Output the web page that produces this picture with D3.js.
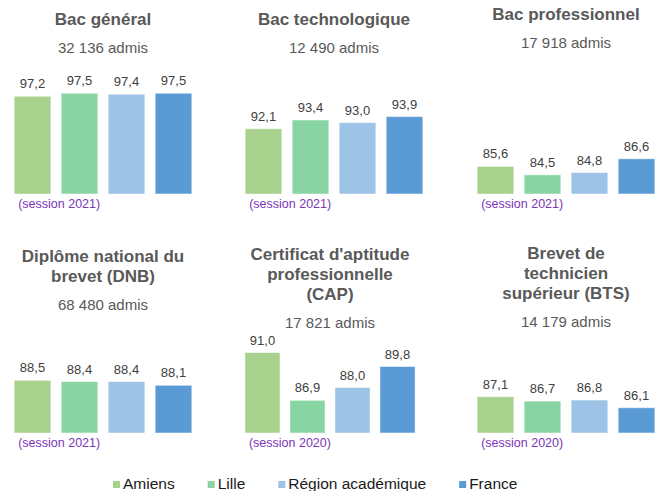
<html>
<head>
    <meta charset="utf-8">
    <script src="https://d3js.org/d3.v7.min.js"></script>
    <style>
        body { margin: 0; background: #fff; }
        text { font-family: "Liberation Sans", Arial, sans-serif; }
    </style>
</head>
<body>
<div id="my_dataviz"></div>
<script>

    // data
    var series = ["Amiens", "Lille", "Région académique", "France"];
    var colors = ["#A9D18E", "#88D4A2", "#9DC3E6", "#5B9BD5"];
    var titles = [
        ["Bac général"],
        ["Bac technologique"],
        ["Bac professionnel"],
        ["Diplôme national du", "brevet (DNB)"],
        ["Certificat d'aptitude", "professionnelle", "(CAP)"],
        ["Brevet de", "technicien", "supérieur (BTS)"]
    ];
    var admis = ["32 136 admis", "12 490 admis", "17 918 admis", "68 480 admis", "17 821 admis", "14 179 admis"];
    var sessions = ["(session 2021)", "(session 2021)", "(session 2021)", "(session 2021)", "(session 2020)", "(session 2020)"];
    var amiens = [97.2, 92.1, 85.6, 88.5, 91.0, 87.1];
    var lille = [97.5, 93.4, 84.5, 88.4, 86.9, 86.7];
    var region = [97.4, 93.0, 84.8, 88.4, 88.0, 86.8];
    var france = [97.5, 93.9, 86.6, 88.1, 89.8, 86.1];
    // each small chart has its own value axis (hidden)
    var yMin = [87.5, 82.4, 82.0, 84.3, 84.1, 83.8];
    var yMax = [100.8, 102.3, 99.5, 94.9, 95.5, 95.9];

    // layout
    var width = 658, height = 491;
    var panelX = [9, 240, 472, 9, 240, 472];
    var panelW = [188, 188, 188, 188, 180, 188];
    var rowTop = [60, 60, 60, 300, 300, 300];
    var rowBottom = [194, 194, 194, 433, 433, 433];
    var titleY = [25, 25, 20, 262, 260, 259];
    var lineH = 20;

    var svg = d3.select("#my_dataviz")
        .append("svg")
        .attr("width", width)
        .attr("height", height);

    var fmt = function (v) { return d3.format(".1f")(v).replace(".", ","); };

    titles.forEach(function (t, i) {
        var g = svg.append("g");
        var vals = [amiens[i], lille[i], region[i], france[i]];

        var x = d3.scaleBand()
            .domain(series)
            .range([panelX[i], panelX[i] + panelW[i]])
            .paddingInner(0.22)
            .paddingOuter(0.11);

        var y = d3.scaleLinear()
            .domain([yMin[i], yMax[i]])
            .range([rowBottom[i], rowTop[i]]);

        var cx = panelX[i] + panelW[i] / 2;

        // title
        g.append("text")
            .attr("text-anchor", "middle")
            .style("font-size", "17px")
            .style("font-weight", "bold")
            .style("fill", "#595959")
            .selectAll("tspan")
            .data(t)
            .enter()
            .append("tspan")
            .attr("x", cx)
            .attr("y", function (d, j) { return titleY[i] + j * lineH; })
            .text(function (d) { return d; });

        // admis count
        g.append("text")
            .attr("x", cx)
            .attr("y", titleY[i] + (t.length - 1) * lineH + 28)
            .attr("text-anchor", "middle")
            .style("font-size", "15px")
            .style("fill", "#595959")
            .text(admis[i]);

        // bars
        g.selectAll("rect")
            .data(vals)
            .enter()
            .append("rect")
            .attr("x", function (d, j) { return x(series[j]); })
            .attr("y", function (d) { return y(d); })
            .attr("width", x.bandwidth())
            .attr("height", function (d) { return y.range()[0] - y(d); })
            .style("fill", function (d, j) { return colors[j]; })
            .style("stroke", "#ffffff")
            .style("stroke-opacity", 0.5)
            .style("stroke-width", 1);

        // value labels
        g.selectAll(".val")
            .data(vals)
            .enter()
            .append("text")
            .attr("class", "val")
            .attr("x", function (d, j) { return x(series[j]) + x.bandwidth() / 2; })
            .attr("y", function (d) { return y(d) - 8; })
            .attr("text-anchor", "middle")
            .style("font-size", "13px")
            .style("fill", "#404040")
            .text(fmt);

        // session note
        g.append("text")
            .attr("x", x(series[0]) + 4)
            .attr("y", rowBottom[i] + 14)
            .style("font-size", "12.5px")
            .style("fill", "#7B35B5")
            .text(sessions[i]);
    });

    // legend
    var lx = 113;
    series.forEach(function (s, j) {
        svg.append("rect")
            .attr("x", lx)
            .attr("y", 481)
            .attr("width", 7)
            .attr("height", 7)
            .style("fill", colors[j]);
        var t = svg.append("text")
            .attr("x", lx + 10)
            .attr("y", 489)
            .style("font-size", "15.5px")
            .style("fill", "#1a1a1a")
            .text(s);
        lx += 10 + t.node().getComputedTextLength() + 33;
    });

</script>
</body>
</html>
